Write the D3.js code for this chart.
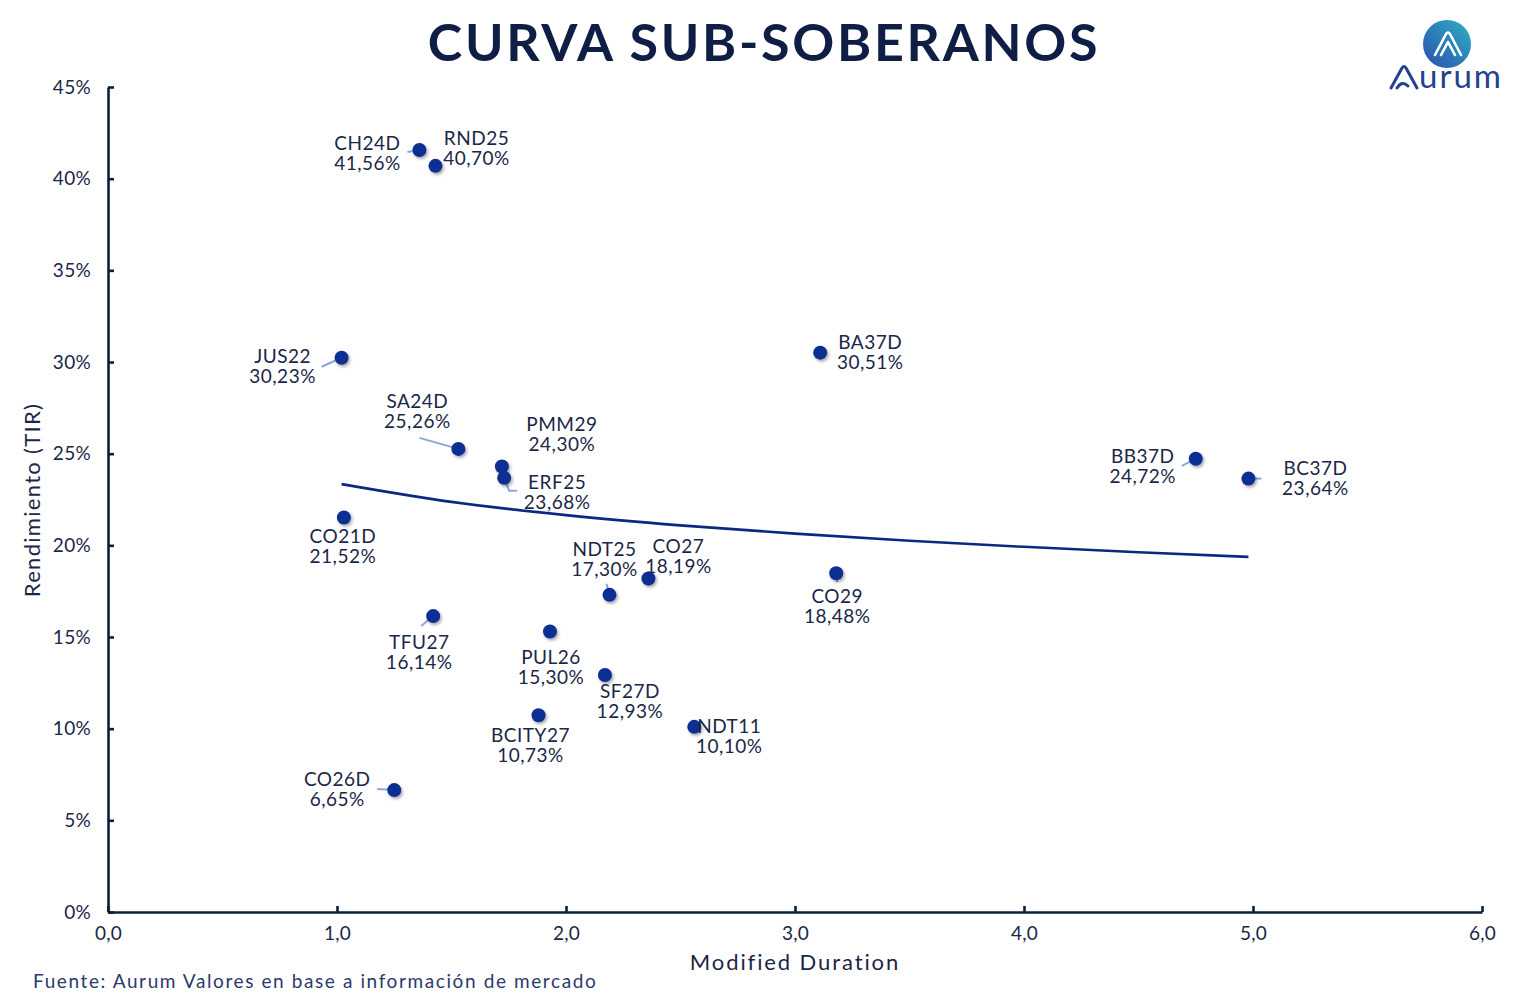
<!DOCTYPE html>
<html>
<head>
<meta charset="utf-8">
<script src="https://cdnjs.cloudflare.com/ajax/libs/d3/7.8.5/d3.min.js"></script>
<style>
  html, body { margin: 0; padding: 0; background: #ffffff; }
  svg { display: block; }
</style>
</head>
<body>
<svg id="chart" width="1528" height="998"></svg>
<script>
// ---- Data ----
const bondNames = ["CH24D","RND25","JUS22","SA24D","PMM29","ERF25","CO21D","BA37D","BB37D","BC37D",
                   "NDT25","CO27","CO29","TFU27","PUL26","SF27D","BCITY27","NDT11","CO26D"];
const modDuration = [1.36, 1.43, 1.02, 1.53, 1.72, 1.73, 1.03, 3.11, 4.75, 4.98,
                     2.19, 2.36, 3.18, 1.42, 1.93, 2.17, 1.88, 2.56, 1.25];
const yieldTIR = [41.56, 40.70, 30.23, 25.26, 24.30, 23.68, 21.52, 30.51, 24.72, 23.64,
                  17.30, 18.19, 18.48, 16.14, 15.30, 12.93, 10.73, 10.10, 6.65];
const trendDuration = [1.02, 1.5, 2.0, 2.5, 3.0, 3.5, 4.0, 4.5, 4.98];
const trendYield = [23.34, 22.37, 21.65, 21.09, 20.64, 20.25, 19.92, 19.62, 19.37];
const xTickValues = [0, 1, 2, 3, 4, 5, 6];
const yTickValues = [0, 5, 10, 15, 20, 25, 30, 35, 40, 45];

// ---- Label placement (styling, px offsets from point) ----
const labelLayout = {
  CH24D:  {dx: -52, dy: 3,   leader: [[-12, 2]]},
  RND25:  {dx: 41,  dy: -18},
  JUS22:  {dx: -59, dy: 8,   leader: [[-20, 9]]},
  SA24D:  {dx: -41, dy: -38, leader: [[-39, -11]]},
  PMM29:  {dx: 60,  dy: -33},
  ERF25:  {dx: 53,  dy: 14,  leader: [[5, 13], [13, 13]]},
  CO21D:  {dx: -1,  dy: 29},
  BA37D:  {dx: 50,  dy: -1},
  BB37D:  {dx: -53, dy: 7,   leader: [[-14, 7]]},
  BC37D:  {dx: 67,  dy: -1,  leader: [[13, 0]]},
  NDT25:  {dx: -5,  dy: -36, leader: [[-3, -11]]},
  CO27:   {dx: 30,  dy: -23},
  CO29:   {dx: 1,   dy: 33,  leader: [[1, 9]]},
  TFU27:  {dx: -14, dy: 36,  leader: [[-12, 10]]},
  PUL26:  {dx: 1,   dy: 35},
  SF27D:  {dx: 25,  dy: 26},
  BCITY27:{dx: -8,  dy: 30},
  NDT11:  {dx: 35,  dy: 9},
  CO26D:  {dx: -57, dy: -1,  leader: [[-17, -1]]}
};

const FONT = "Lato, 'Noto Sans', sans-serif";
const AXIS = "#0d1f3c";
const TEXT = "#1b2747";

const svg = d3.select("#chart");
const x = d3.scaleLinear().domain([0, 6]).range([108, 1482]);
const y = d3.scaleLinear().domain([0, 45]).range([912, 87]);
const fmtComma = d => d3.format(".1f")(d).replace(".", ",");
const fmtPct = d => d3.format(".2f")(d).replace(".", ",") + "%";

const defs = svg.append("defs");
const sh = defs.append("filter").attr("id", "shadow").attr("x", "-50%").attr("y", "-50%").attr("width", "200%").attr("height", "200%");
sh.append("feDropShadow").attr("dx", 1.5).attr("dy", 2).attr("stdDeviation", 1.6).attr("flood-color", "#000").attr("flood-opacity", 0.35);
const lg = defs.append("linearGradient").attr("id", "logoGrad").attr("x1", "0").attr("y1", "1").attr("x2", "1").attr("y2", "0");
lg.append("stop").attr("offset", "0%").attr("stop-color", "#2a4fae");
lg.append("stop").attr("offset", "100%").attr("stop-color", "#2fb0c4");

// Title
svg.append("text").attr("x", 764).attr("y", 61).attr("text-anchor", "middle")
  .attr("font-family", FONT).attr("font-weight", 700).attr("font-size", 52)
  .attr("fill", "#0e1e44").attr("letter-spacing", 2.7).text("CURVA SUB-SOBERANOS");

// Logo
const logo = svg.append("g");
logo.append("circle").attr("cx", 1447).attr("cy", 44).attr("r", 24).attr("fill", "url(#logoGrad)");
logo.append("path").attr("d", "M1435,55 L1446,34 Q1448,31 1450,34 L1461,55 M1441,55 L1448,42 L1455,55")
  .attr("fill", "none").attr("stroke", "#fff").attr("stroke-width", 2.6).attr("stroke-linejoin", "round").attr("stroke-linecap", "round");
logo.append("path").attr("d", "M1391,88 L1402,68 Q1404,65 1406,68 L1417,88 M1397,88 Q1402,80 1408,86")
  .attr("fill", "none").attr("stroke", "#24418e").attr("stroke-width", 3).attr("stroke-linejoin", "round").attr("stroke-linecap", "round");
logo.append("text").attr("x", 1419).attr("y", 88).attr("font-family", FONT).attr("font-size", 33)
  .attr("fill", "#24418e").attr("letter-spacing", 2).text("urum");

// Axes
const xAxis = d3.axisBottom(x).tickValues(xTickValues).tickFormat(fmtComma).tickSizeInner(-6).tickSizeOuter(0).tickPadding(15);
const gx = svg.append("g").attr("transform", "translate(0,912)").call(xAxis);
const yAxis = d3.axisLeft(y).tickValues(yTickValues).tickFormat(d => d + "%").tickSizeInner(-6).tickSizeOuter(0).tickPadding(17);
const gy = svg.append("g").attr("transform", "translate(108,0)").call(yAxis);
[gx, gy].forEach(g => {
  g.select(".domain").attr("stroke", AXIS).attr("stroke-width", 2.6);
  g.selectAll(".tick line").attr("stroke", AXIS).attr("stroke-width", 2.6);
  g.selectAll(".tick text").attr("font-family", FONT).attr("font-size", 19).attr("fill", TEXT).attr("letter-spacing", 0.3);
});
gx.selectAll(".tick text").attr("dy", "0.71em");

// Axis titles
svg.append("text").attr("x", 795).attr("y", 970).attr("text-anchor", "middle")
  .attr("font-family", FONT).attr("font-size", 22).attr("fill", TEXT).attr("letter-spacing", 1.9).text("Modified Duration");
svg.append("text").attr("transform", "translate(40,500) rotate(-90)").attr("text-anchor", "middle")
  .attr("font-family", FONT).attr("font-size", 22).attr("fill", TEXT).attr("letter-spacing", 1.3).text("Rendimiento (TIR)");

// Footer
svg.append("text").attr("x", 33).attr("y", 988).attr("font-family", FONT).attr("font-size", 19)
  .attr("fill", "#2a3a6c").attr("letter-spacing", 1.6).text("Fuente: Aurum Valores en base a información de mercado");

// Trend line
const trend = trendDuration.map((d, i) => [d, trendYield[i]]);
svg.append("path").datum(trend)
  .attr("d", d3.line().x(d => x(d[0])).y(d => y(d[1])).curve(d3.curveMonotoneX))
  .attr("fill", "none").attr("stroke", "#0a2a80").attr("stroke-width", 2.6);

// Points data
const pts = bondNames.map((n, i) => ({name: n, dur: modDuration[i], yld: yieldTIR[i]}));

// Leaders
const leaderG = svg.append("g");
pts.forEach(p => {
  const L = labelLayout[p.name];
  if (!L.leader) return;
  const px = x(p.dur), py = y(p.yld);
  const line = [[px, py]].concat(L.leader.map(o => [px + o[0], py + o[1]]));
  leaderG.append("path").attr("d", d3.line()(line))
    .attr("fill", "none").attr("stroke", "#8ea6de").attr("stroke-width", 2);
});

// Dots
svg.append("g").selectAll("circle").data(pts).join("circle")
  .attr("cx", d => x(d.dur)).attr("cy", d => y(d.yld)).attr("r", 7)
  .attr("fill", "#0b2f92").attr("filter", "url(#shadow)");

// Labels
const lab = svg.append("g").selectAll("text").data(pts).join("text")
  .attr("font-family", FONT).attr("font-size", 19).attr("fill", TEXT).attr("text-anchor", "middle")
  .attr("letter-spacing", 0.5);
lab.each(function(d) {
  const L = labelLayout[d.name];
  const cx = x(d.dur) + L.dx, cy = y(d.yld) + L.dy;
  const t = d3.select(this);
  t.append("tspan").attr("x", cx).attr("y", cy - 3).text(d.name);
  t.append("tspan").attr("x", cx).attr("y", cy + 17).text(fmtPct(d.yld));
});
</script>
</body>
</html>
